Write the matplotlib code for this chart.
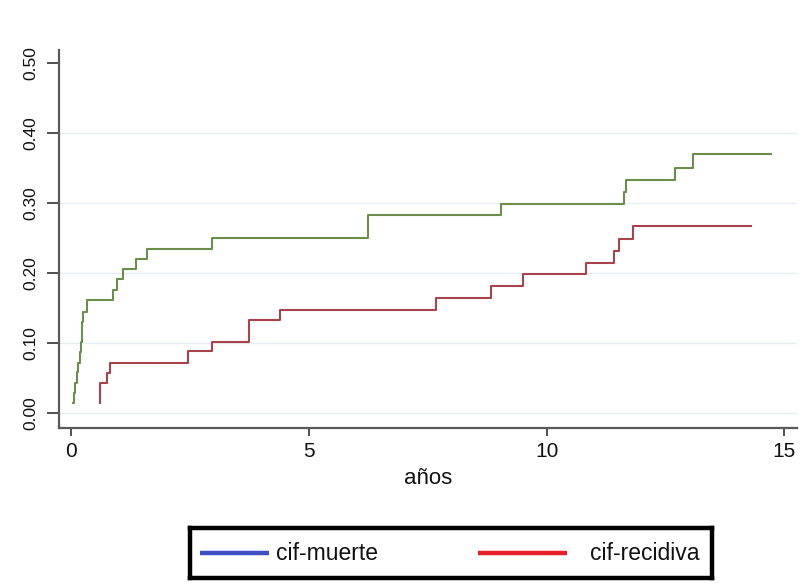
import matplotlib
matplotlib.use("Agg")
import matplotlib.pyplot as plt

# Cumulative incidence functions (competing risks), time in years
muerte_t = [0.04, 0.06, 0.08, 0.11, 0.14, 0.17, 0.20, 0.22, 0.25, 0.33,
            0.87, 0.95, 1.08, 1.36, 1.58, 2.95, 6.24, 9.04, 11.63, 11.67,
            12.71, 13.08, 14.72]
muerte_cif = [0.014, 0.029, 0.043, 0.058, 0.072, 0.087, 0.101, 0.130, 0.145, 0.161,
              0.176, 0.191, 0.206, 0.220, 0.235, 0.250, 0.283, 0.299, 0.316, 0.333,
              0.351, 0.370, 0.370]

recidiva_t = [0.60, 0.61, 0.74, 0.82, 2.45, 2.95, 3.74, 4.39, 7.67, 8.83,
              9.51, 10.82, 11.41, 11.53, 11.81, 14.30]
recidiva_cif = [0.014, 0.043, 0.057, 0.072, 0.088, 0.102, 0.133, 0.148, 0.165, 0.182,
                0.199, 0.215, 0.232, 0.249, 0.267, 0.267]

x_ticks = [0, 5, 10, 15]
y_ticks = [0.0, 0.1, 0.2, 0.3, 0.4, 0.5]
y_grid = [0.0, 0.1, 0.2, 0.3, 0.4]
legend_labels = ["cif-muerte", "cif-recidiva"]
x_label = "años"

font = "Liberation Sans"

W, H = 808, 584
fig = plt.figure(figsize=(W / 100, H / 100), dpi=100)
fig.patch.set_facecolor("white")

# main axes box in pixel units
left, right, top, bottom = 59, 797, 50, 428
ax = fig.add_axes([left / W, 1 - bottom / H, (right - left) / W, (bottom - top) / H])

xmin, xmax = -0.263, 15.27
ax.hlines(y_grid, xmin, xmax, colors="#e6edf1", linewidth=1.0, zorder=0)

ax.plot(muerte_t, muerte_cif, drawstyle="steps-post", color="#6b8e4b", linewidth=1.5)
ax.plot(recidiva_t, recidiva_cif, drawstyle="steps-post", color="#a8434c", linewidth=1.5)

ax.set_xlim(xmin, xmax)
ax.set_ylim(-0.0214, 0.519)

for side in ("top", "right"):
    ax.spines[side].set_visible(False)
for side in ("left", "bottom"):
    ax.spines[side].set_color("#5a5a5a")
    ax.spines[side].set_linewidth(1.6)

ax.set_xticks(x_ticks)
ax.set_xticklabels([str(v) for v in x_ticks], fontfamily=font, fontsize=15)
ax.set_yticks(y_ticks)
ax.set_yticklabels([f"{v:.2f}" for v in y_ticks], fontfamily=font, fontsize=12.5,
                   rotation=90, va="center")
ax.tick_params(axis="x", length=6, width=1.2, color="#333333", pad=4, labelcolor="#111111")
ax.tick_params(axis="y", length=9, width=1.2, color="#333333", pad=6, labelcolor="#111111")

ax.set_xlabel(x_label, fontfamily=font, fontsize=16, color="#111111", labelpad=5)

# legend box below the plot
lx0, lx1, ly0, ly1 = 190, 712, 528, 578
lax = fig.add_axes([lx0 / W, 1 - ly1 / H, (lx1 - lx0) / W, (ly1 - ly0) / H])
lax.set_xlim(0, lx1 - lx0)
lax.set_ylim(ly1 - ly0, 0)
lax.set_xticks([])
lax.set_yticks([])
for s in lax.spines.values():
    s.set_linewidth(3.2)
    s.set_color("black")
mid = 25
lax.plot([10, 79], [mid, mid], color="#3c4fc4", linewidth=3.2, solid_capstyle="butt")
lax.text(86, mid, legend_labels[0], fontfamily=font, fontsize=16.5, va="center", ha="left",
         color="#111111")
lax.plot([288, 377], [mid, mid], color="#e81f2a", linewidth=3.2, solid_capstyle="butt")
lax.text(400, mid, legend_labels[1], fontfamily=font, fontsize=16.5, va="center", ha="left",
         color="#111111")

fig.savefig("out.png", dpi=100, facecolor="white")
